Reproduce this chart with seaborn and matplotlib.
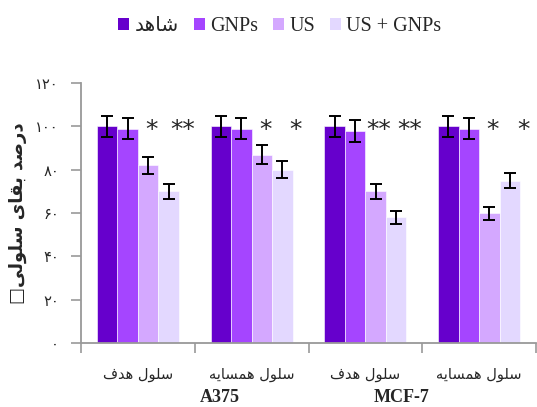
import matplotlib
matplotlib.use('Agg')
import matplotlib.pyplot as plt
import pandas as pd
import seaborn as sns
from matplotlib.patches import Patch

# Persian text is written in visual order with Arabic presentation forms,
# because matplotlib does no shaping or bidi.
CELL_TARGET = '\uFED1\uFEAA\uFEEB \uFEDD\uFEEE\uFEE0\uFEB3'           # سلول هدف
CELL_NEIGHBOR = '\uFEEA\uFEF3\uFE8E\uFEB4\uFEE4\uFEEB \uFEDD\uFEEE\uFEE0\uFEB3'  # سلول همسایه
CONTROL = '\uFEAA\uFEEB\uFE8E\uFEB7'                                   # شاهد
YLABEL = '\u25A1\uFEF0\uFEDF\uFEEE\uFEE0\uFEB3 \uFEEF\uFE8E\uFED8\uFE91 \uFEAA\uFEBB\uFEAD\uFEA9'  # درصد بقای سلولی

# data
categories = ['A375-target', 'A375-neighbor', 'MCF7-target', 'MCF7-neighbor']
cat_labels = [CELL_TARGET, CELL_NEIGHBOR, CELL_TARGET, CELL_NEIGHBOR]
groups = ['شاهد', 'GNPs', 'US', 'US + GNPs']
group_labels = [CONTROL, 'GNPs', 'US', 'US + GNPs']
survival = {
    'شاهد':      [100, 100, 100, 100],
    'GNPs':      [99, 99, 98, 99],
    'US':        [82, 87, 70, 60],
    'US + GNPs': [70, 80, 58, 75],
}
errors = {
    'شاهد':      [5, 5, 5, 5],
    'GNPs':      [5, 5, 5, 5],
    'US':        [4, 4.5, 3.5, 3],
    'US + GNPs': [3.5, 4, 3, 3.5],
}
stars_us = ['*', '*', '**', '*']
stars_both = ['**', '*', '**', '*']
yticks = [0, 20, 40, 60, 80, 100, 120]
ytick_labels = ['۰', '۲۰', '۴۰', '۶۰', '۸۰', '۱۰۰', '۱۲۰']
cell_lines = ['A375', 'MCF-7']

colors = ['#6600CC', '#A545FF', '#D4A8FF', '#E3D8FF']

rows = []
for g in groups:
    for c, v in zip(categories, survival[g]):
        rows.append({'cat': c, 'group': g, 'value': v})
df = pd.DataFrame(rows)

sns.set_style('white')
plt.rcParams['font.family'] = ['Liberation Serif', 'DejaVu Sans']

fig = plt.figure(figsize=(5.37, 4.07), dpi=100)
ax = fig.add_axes([0.151, 0.157, 0.847, 0.639])

sns.barplot(data=df, x='cat', y='value', hue='group', order=categories,
            hue_order=groups, palette=colors, saturation=1, width=0.72, errorbar=None,
            edgecolor='white', linewidth=0.4, legend=False, ax=ax)

# error bars from the bar positions
for cont, g in zip(ax.containers, groups):
    xs = [p.get_x() + p.get_width() / 2 for p in cont]
    ax.errorbar(xs, survival[g], yerr=errors[g], fmt='none', ecolor='black',
                elinewidth=1.4, capsize=4.5, capthick=1.4, zorder=5)

# significance stars
bar_w = 0.72 / 4
for i in range(4):
    ax.text(i + 0.5 * bar_w + 0.03, 98.5, stars_us[i], ha='center', va='center',
            fontsize=18, family='DejaVu Sans')
    ax.text(i + 1.5 * bar_w + 0.12, 98.5, stars_both[i], ha='center', va='center',
            fontsize=18, family='DejaVu Sans')

ax.set_ylim(0, 120)
ax.set_xlim(-0.5, 3.5)
ax.set_yticks(yticks)
ax.set_yticklabels(ytick_labels, family='DejaVu Sans', fontsize=10.5)
ax.set_xticks([-0.5, 0.5, 1.5, 2.5, 3.5])
ax.set_xticklabels([])
ax.set_xticks(range(4), minor=True)
ax.set_xticklabels(cat_labels, minor=True, family='DejaVu Sans', fontsize=10.5)
ax.tick_params(axis='x', which='major', length=7, width=1.2, color='#999999', direction='out', bottom=True)
ax.tick_params(axis='x', which='minor', length=0, pad=17)
ax.tick_params(axis='y', length=7, width=1.2, color='#999999', direction='out', left=True, pad=9)
ax.set_xlabel('')
ax.set_ylabel(YLABEL, family='DejaVu Sans', fontsize=13, fontweight='bold', labelpad=6)

sns.despine(ax=ax)
for s in ['left', 'bottom']:
    ax.spines[s].set_color('#999999')
    ax.spines[s].set_linewidth(1.3)

# cell line labels below the categories
for x, name in zip([0.72, 2.32], cell_lines):
    ax.text(x, -0.21, name, transform=ax.get_xaxis_transform(), ha='center', va='center',
            fontsize=13, fontweight='bold', family='Liberation Serif')

handles = [Patch(facecolor=c, edgecolor='none') for c in colors]
fig.legend(handles, group_labels, loc='center', bbox_to_anchor=(0.521, 0.934), ncol=4,
           frameon=False, fontsize=14.5, handlelength=0.55, handleheight=0.55,
           handletextpad=0.25, columnspacing=0.75)

fig.savefig('out.png', dpi=100)
